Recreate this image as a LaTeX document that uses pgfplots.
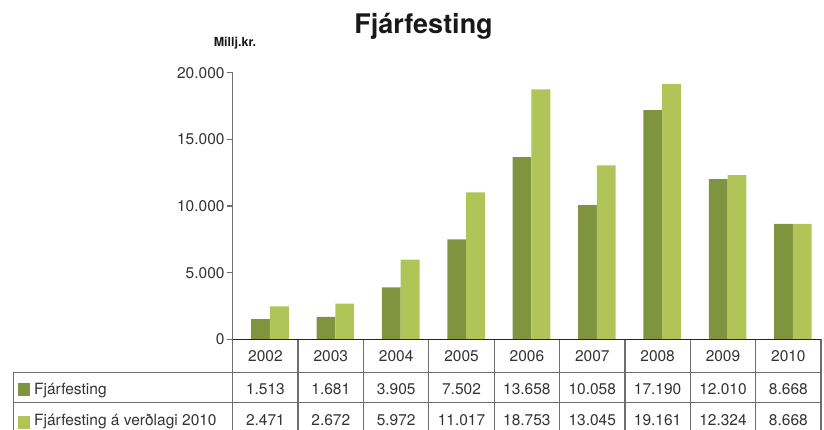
\documentclass[border=0pt]{standalone}
\usepackage{fontspec}
\setmainfont{TeX Gyre Heros}
\usepackage{pgfplots}
\pgfplotsset{compat=1.18}
\definecolor{darkg}{HTML}{809440}
\definecolor{lightg}{HTML}{B0C458}
\definecolor{txt}{HTML}{333333}
\definecolor{gridc}{HTML}{6E6E6E}
\newcommand{\tf}{\fontsize{15.5bp}{18bp}\selectfont}
\begin{document}
\begin{tikzpicture}[x=1bp,y=1bp]
\useasboundingbox (0,0) rectangle (824,-429);
\begin{axis}[
  at={(232.7bp,-339.3bp)}, anchor=south west,
  scale only axis, width=588.3bp, height=266.6bp,
  xmin=-0.5, xmax=8.5, ymin=0, ymax=20000,
  axis x line=none, axis y line*=left,
  xtick=\empty,
  ytick={0,5000,10000,15000,20000},
  scaled y ticks=false,
  tick align=outside, major tick length=6bp,
  y axis line style={color=gridc, line width=1.2bp},
  y tick style={color=gridc, line width=1.2bp},
  yticklabel style={font=\tf, text=txt, inner sep=0pt, anchor=east, xshift=-2bp},
  /pgf/number format/.cd, fixed, 1000 sep={.}, assume math mode=true,
  /pgfplots/.cd,
  ybar, bar width=18.8bp,
  clip=false,
]
\addplot[fill=darkg, draw=none, bar shift=-4.8bp] coordinates {
 (0,1513) (1,1681) (2,3905) (3,7502) (4,13658) (5,10058) (6,17190) (7,12010) (8,8668)};
\addplot[fill=lightg, draw=none, bar shift=14.0bp] coordinates {
 (0,2471) (1,2672) (2,5972) (3,11017) (4,18753) (5,13045) (6,19161) (7,12324) (8,8668)};
\end{axis}
% title and unit
\node[anchor=base, font=\fontsize{27bp}{30bp}\selectfont\bfseries, text=black!90] at (423.5,-33.3) {Fjárfesting};
\node[anchor=base, font=\fontsize{12.5bp}{14bp}\selectfont\bfseries, text=black!90] at (235,-46) {Millj.kr.};
% table lines
\begin{scope}[gridc, line width=1.2bp]
\draw (13.3,-372.7) -- (821,-372.7);
\draw (13.3,-402.5) -- (821,-402.5);
\draw (13.3,-372.7) -- (13.3,-432);
\foreach \k in {1,...,9} {
  \draw (232.7+65.37*\k,-339.3) -- (232.7+65.37*\k,-432);
}
\draw (232.7,-339.3) -- (232.7,-432);
\end{scope}
\draw[black!85, line width=1.2bp] (232.7,-339.3) -- (821,-339.3);
% header and values
\foreach \yr [count=\i from 0] in {2002,2003,2004,2005,2006,2007,2008,2009,2010} {
  \node[anchor=base, font=\tf, text=txt, inner sep=0pt] at (265.4+65.37*\i,-361.7) {\yr};
}
\foreach \v [count=\i from 0] in {1.513,1.681,3.905,7.502,13.658,10.058,17.190,12.010,8.668} {
  \node[anchor=base, font=\tf, text=txt, inner sep=0pt] at (265.4+65.37*\i,-394.3) {\v};
}
\foreach \v [count=\i from 0] in {2.471,2.672,5.972,11.017,18.753,13.045,19.161,12.324,8.668} {
  \node[anchor=base, font=\tf, text=txt, inner sep=0pt] at (265.4+65.37*\i,-425) {\v};
}
% row labels with legend squares
\fill[darkg] (18,-383.3) rectangle (30,-396);
\fill[lightg] (18,-415.5) rectangle (30,-428.5);
\node[anchor=base west, font=\tf, text=txt, inner sep=0pt] at (34,-394.3) {Fjárfesting};
\node[anchor=base west, font=\tf, text=txt, inner sep=0pt] at (34,-425) {Fjárfesting á verðlagi 2010};
\end{tikzpicture}
\end{document}
